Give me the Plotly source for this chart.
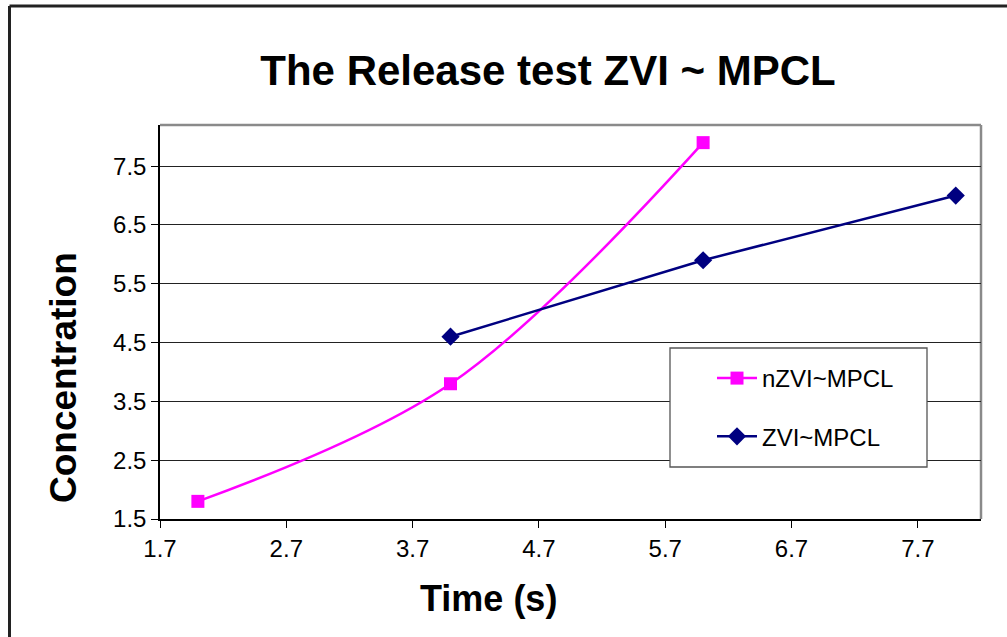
import plotly.graph_objects as go

# ---- data ----
nzvi_time = [2, 4, 6]
nzvi_conc = [1.8, 3.8, 7.9]
zvi_time = [4, 6, 8]
zvi_conc = [4.6, 5.9, 7.0]
x_ticks = [1.7, 2.7, 3.7, 4.7, 5.7, 6.7, 7.7]
x_labels = ["1.7", "2.7", "3.7", "4.7", "5.7", "6.7", "7.7"]
y_ticks = [1.5, 2.5, 3.5, 4.5, 5.5, 6.5, 7.5]
y_labels = ["1.5", "2.5", "3.5", "4.5", "5.5", "6.5", "7.5"]

W, H = 1007, 637
L, R, T, B = 160, 26, 125, 118
pw = W - L - R
ph = H - T - B

def px(xp):
    return (xp - L) / pw

def py(yp):
    return (H - B - yp) / ph

FONT = "Liberation Sans, Arial, sans-serif"

fig = go.Figure()
fig.add_trace(go.Scatter(
    x=nzvi_time, y=nzvi_conc, name="nZVI~MPCL", mode="lines+markers",
    line=dict(color="#FF00FF", width=2.5, shape="spline", smoothing=1),
    marker=dict(symbol="square", size=13, color="#FF00FF"),
    legendgroup="a"))
fig.add_trace(go.Scatter(
    x=zvi_time, y=zvi_conc, name="ZVI~MPCL", mode="lines+markers",
    line=dict(color="#000080", width=2.5),
    marker=dict(symbol="diamond", size=14, color="#000080"),
    legendgroup="b"))

shapes = [
    # plot border top/right (gray)
    dict(type="line", xref="paper", yref="paper", x0=0, x1=1, y0=1, y1=1,
         line=dict(color="#8a8a8a", width=2.5), layer="below"),
    dict(type="line", xref="paper", yref="paper", x0=1, x1=1, y0=0, y1=1,
         line=dict(color="#8a8a8a", width=2.5), layer="below"),
    # legend box
    dict(type="rect", xref="paper", yref="paper",
         x0=px(670), x1=px(927), y0=py(467), y1=py(348),
         fillcolor="white", line=dict(color="#555555", width=1.3), layer="above"),
    # outer frame (left and top)
    dict(type="line", xref="paper", yref="paper", x0=px(9.5), x1=px(1010),
         y0=py(6), y1=py(6), line=dict(color="#222222", width=3)),
    dict(type="line", xref="paper", yref="paper", x0=px(9.5), x1=px(9.5),
         y0=py(6), y1=py(640), line=dict(color="#222222", width=3)),
]

annotations = [
    dict(text="<b>Concentration</b>", textangle=-90, xref="paper", yref="paper",
         x=px(63), y=py(378), showarrow=False, xanchor="center", yanchor="middle",
         font=dict(family=FONT, size=37, color="black")),
    dict(text="<b>Time (s)</b>", xref="paper", yref="paper",
         x=px(488), y=py(598), showarrow=False, xanchor="center", yanchor="middle",
         font=dict(family=FONT, size=36, color="black")),
]

fig.update_layout(
    width=W, height=H,
    margin=dict(l=L, r=R, t=T, b=B),
    paper_bgcolor="white", plot_bgcolor="white",
    title=dict(text="<b>The Release test ZVI ~ MPCL</b>", x=548 / W, xanchor="center",
               y=1 - 70 / H, yanchor="middle",
               font=dict(family=FONT, size=42, color="black")),
    font=dict(family=FONT, color="black"),
    shapes=shapes,
    annotations=annotations,
    showlegend=True,
    legend=dict(x=px(712), y=py(356), xanchor="left", yanchor="top",
                bgcolor="rgba(0,0,0,0)", borderwidth=0,
                font=dict(family=FONT, size=24, color="black"),
                traceorder="grouped", tracegroupgap=24, itemwidth=40),
    xaxis=dict(range=[1.7, 8.2], tickvals=x_ticks, ticktext=x_labels,
               showgrid=False, zeroline=False, showline=True, linecolor="black",
               linewidth=1.5, ticks="outside", ticklen=7, tickcolor="black",
               tickwidth=1.3, tickfont=dict(size=24, color="black")),
    yaxis=dict(range=[1.5, 8.2], tickvals=y_ticks, ticktext=y_labels,
               showgrid=True, gridcolor="#222222", gridwidth=1.3, zeroline=False,
               showline=True, linecolor="black", linewidth=1.5, ticks="outside",
               ticklen=7, tickcolor="black", tickwidth=1.3,
               tickfont=dict(size=24, color="black")),
)

fig.write_html("out.html")
